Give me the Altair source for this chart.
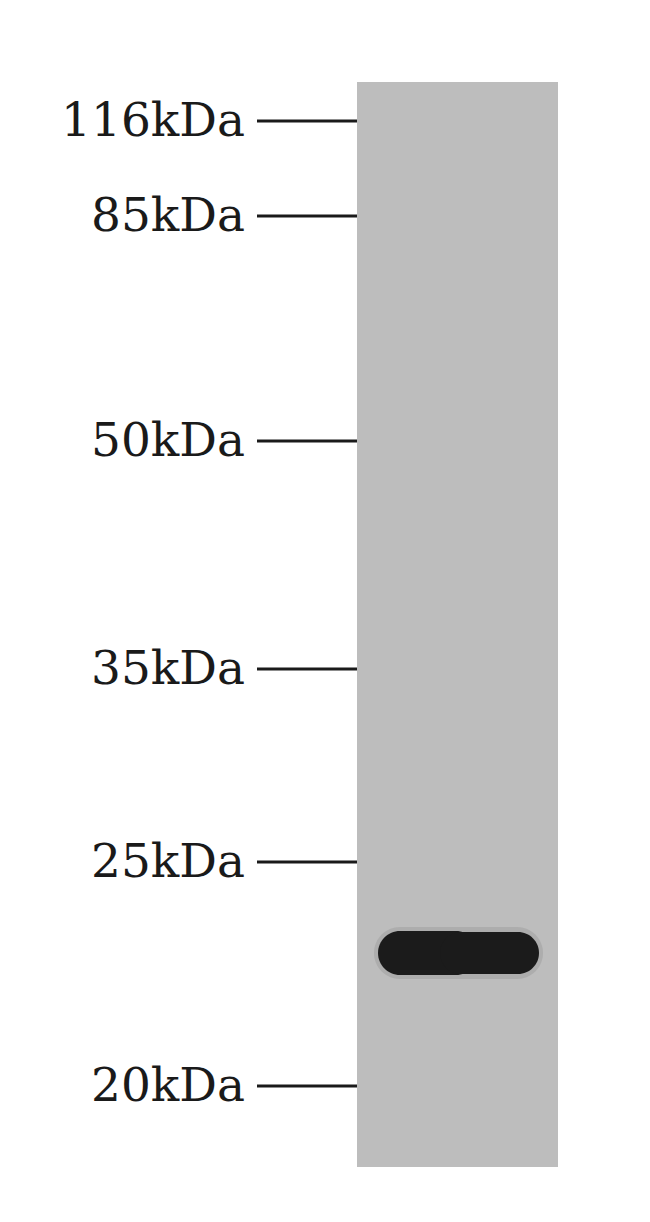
import altair as alt
import pandas as pd

# Marker ladder (kDa) and their migration positions
marker_labels = ["116kDa", "85kDa", "50kDa", "35kDa", "25kDa", "20kDa"]
marker_pos = [121, 216, 441, 669, 862, 1086]

# Lane extent
lane_left, lane_right = [357], [558]
lane_top, lane_bottom = [82], [1167]

# Detected band (two overlapping lobes)
band_left = [378, 440]
band_right = [478, 539]
band_top = [931, 932]
band_bottom = [975, 974]

marker_x1 = [257] * len(marker_labels)
marker_x2 = [357] * len(marker_labels)
label_x = [245] * len(marker_labels)

W, H = 634, 1206
xs = alt.Scale(domain=[8, 8 + W], nice=False, zero=False)
ys = alt.Scale(domain=[8, 8 + H], nice=False, zero=False, reverse=True)

lane_df = pd.DataFrame({"x": lane_left, "x2": lane_right, "y": lane_top, "y2": lane_bottom})
band_df = pd.DataFrame({"x": band_left, "x2": band_right, "y": band_top, "y2": band_bottom})
mk_df = pd.DataFrame({"label": marker_labels, "pos": marker_pos, "x1": marker_x1,
                      "x2": marker_x2, "lx": label_x})

X = lambda f: alt.X(f, type="quantitative", scale=xs, axis=None)
Y = lambda f: alt.Y(f, type="quantitative", scale=ys, axis=None)

lane = alt.Chart(lane_df).mark_rect(color="#bdbdbd").encode(
    x=X("x"), x2="x2", y=Y("y"), y2="y2")

halo = alt.Chart(pd.DataFrame({"x": [band_left[0] - 4], "x2": [band_right[1] + 4],
                               "y": [band_top[0] - 4], "y2": [band_bottom[0] + 4]})).mark_rect(
    color="#8f8f8f", cornerRadius=26, opacity=0.35).encode(
    x=X("x"), x2="x2", y=Y("y"), y2="y2")

band = alt.Chart(band_df).mark_rect(color="#1b1b1b", cornerRadius=22).encode(
    x=X("x"), x2="x2", y=Y("y"), y2="y2")

ticks = alt.Chart(mk_df).mark_rule(color="#1a1a1a", strokeWidth=3).encode(
    x=X("x1"), x2="x2", y=Y("pos"))

labels = alt.Chart(mk_df).mark_text(
    align="right", baseline="alphabetic", dy=15, font="DejaVu Serif",
    fontSize=47, color="#1a1a1a").encode(
    x=X("lx"), y=Y("pos"), text="label")

chart = alt.layer(lane, halo, band, ticks, labels).properties(
    width=W, height=H, padding=0, autosize="none", background="white"
).configure_view(stroke=None, strokeWidth=0)

chart.save("out.html", embed_options={"renderer": "svg", "actions": False})
